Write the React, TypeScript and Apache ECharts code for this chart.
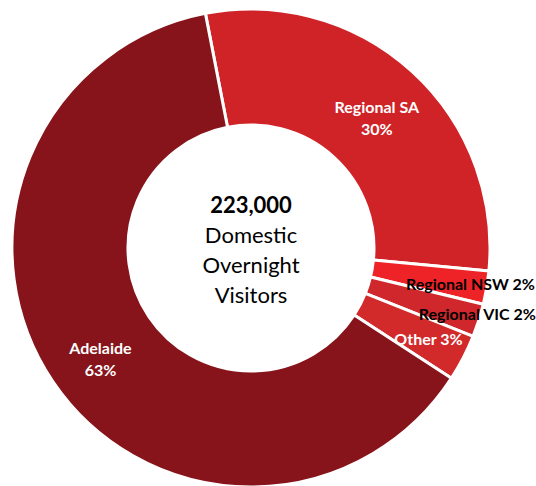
import React, { useEffect, useRef } from "react";
import * as echarts from "echarts";

// Domestic overnight visitors by region (thousands)
const categories = ["Regional SA", "Regional NSW", "Regional VIC", "Other", "Adelaide"];
const visitors = [66, 5, 5, 7, 140];
const sliceColors = ["#CF2327", "#EE2328", "#CF272B", "#D2292B", "#86141A"];
const labelColors = ["#ffffff", "#000000", "#000000", "#ffffff", "#ffffff"];
const twoLineLabel = [true, false, false, false, true];
const labelOffsets = [
  [2, 6],
  [38, 5],
  [51, 10],
  [14, 6],
  [2, 8],
];
const centerLines = ["223,000", "Domestic", "Overnight", "Visitors"];

const FONT = "Lato, 'Open Sans', sans-serif";

export default function App() {
  const ref = useRef<HTMLDivElement>(null);

  useEffect(() => {
    if (!ref.current) return;
    const chart = echarts.init(ref.current, undefined, { renderer: "svg" });

    const data = categories.map((name, i) => ({
      name,
      value: visitors[i],
      itemStyle: { color: sliceColors[i] },
      label: {
        color: labelColors[i],
        offset: labelOffsets[i],
      },
      twoLine: twoLineLabel[i],
    }));

    const cx = 251;
    const cy = 248;
    const lineGap = 30;
    const startY = cy - (lineGap * (centerLines.length - 1)) / 2 + 1;

    chart.setOption({
      animation: false,
      series: [
        {
          type: "pie",
          center: [cx, cy],
          radius: [123, 239],
          startAngle: 101,
          clockwise: true,
          avoidLabelOverlap: false,
          itemStyle: { borderColor: "#ffffff", borderWidth: 3 },
          emphasis: { disabled: true },
          label: {
            show: true,
            position: "inside",
            fontFamily: FONT,
            fontWeight: "bold",
            fontSize: 16,
            lineHeight: 22,
            formatter: (p: any) => {
              const pct = Math.round(p.percent);
              return p.data.twoLine ? `${p.name}\n${pct}%` : `${p.name} ${pct}%`;
            },
          },
          labelLine: { show: false },
          data,
        },
      ],
      graphic: centerLines.map((t, i) => ({
        type: "text",
        x: cx,
        y: startY + i * lineGap,
        style: {
          text: t,
          align: "center",
          verticalAlign: "middle",
          fontFamily: FONT,
          fontSize: 22,
          fontWeight: i === 0 ? "bold" : "normal",
          fill: "#000000",
        },
      })),
    });

    return () => chart.dispose();
  }, []);

  return (
    <div
      ref={ref}
      style={{ position: "fixed", left: 0, top: 0, width: 536, height: 486, background: "#ffffff" }}
    />
  );
}
